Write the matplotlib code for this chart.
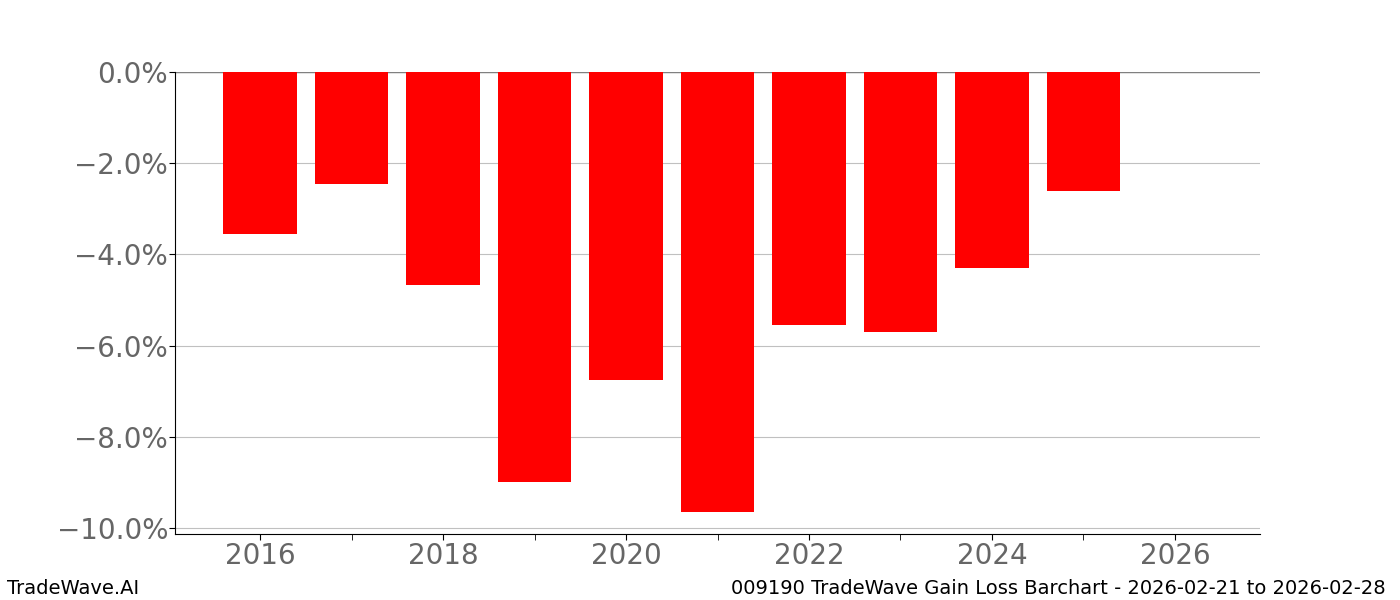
import matplotlib
matplotlib.use("Agg")
import matplotlib.pyplot as plt
from matplotlib.ticker import FuncFormatter, MultipleLocator

years = [2016, 2017, 2018, 2019, 2020, 2021, 2022, 2023, 2024, 2025]
values = [-3.55, -2.45, -4.66, -8.98, -6.75, -9.64, -5.54, -5.71, -4.30, -2.60]
left_label = "TradeWave.AI"
right_label = "009190 TradeWave Gain Loss Barchart - 2026-02-21 to 2026-02-28"

fig, ax = plt.subplots(figsize=(14, 6), dpi=100)
ax.grid(axis="y", color="#c0c0c0", linewidth=0.8)
ax.axhline(0, color="#808080", linewidth=1.0, zorder=1.8)
ax.bar(years, values, width=0.8, color="#ff0000", zorder=2)

ax.set_xlim(2015.07, 2026.93)
ax.set_ylim(-10.13, 0)
ax.xaxis.set_major_locator(MultipleLocator(2))
ax.xaxis.set_minor_locator(MultipleLocator(1))
ax.yaxis.set_major_locator(MultipleLocator(2))
ax.yaxis.set_major_formatter(FuncFormatter(lambda v, p: f"{v:.1f}%".replace("-", "\u2212")))
ax.tick_params(axis="both", which="major", labelsize=20, labelcolor="#666666", length=4)
ax.tick_params(axis="y", which="major", pad=1)
ax.tick_params(axis="x", which="major", pad=2)
ax.tick_params(axis="x", which="minor", length=4)
ax.spines["top"].set_visible(False)
ax.spines["right"].set_visible(False)

fig.text(0.005, 0.019, left_label, fontsize=14, color="#000000", ha="left", va="center")
fig.text(0.99, 0.019, right_label, fontsize=14, color="#000000", ha="right", va="center")

fig.savefig("out.png", dpi=100)
